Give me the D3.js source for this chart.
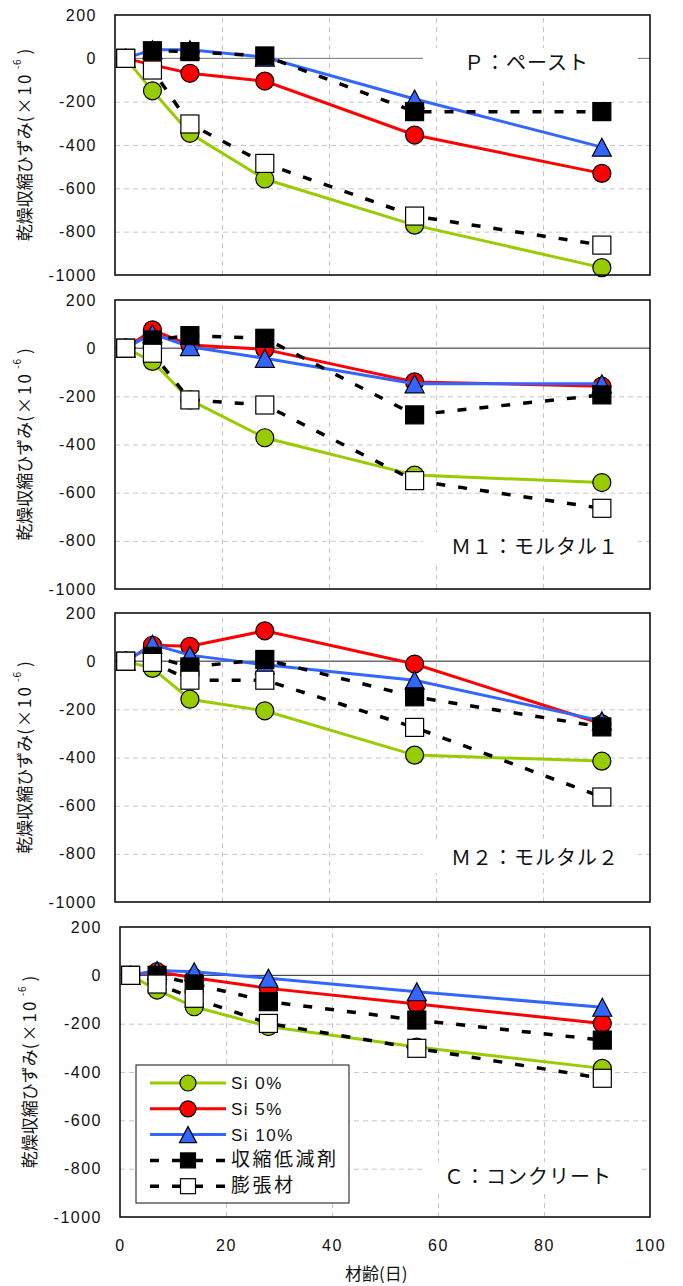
<!DOCTYPE html>
<html>
<head>
<meta charset="utf-8">
<script src="https://cdn.jsdelivr.net/npm/d3@7"></script>
<style>
    body { margin: 0; background: #fff; }
    svg { display: block; }
</style>
</head>
<body>
<svg id="chart" width="683" height="1286"></svg>
<script>
'use strict';

var days = [2, 7, 14, 28, 56, 91];
var seriesNames = ['Si 0%', 'Si 5%', 'Si 10%', '収縮低減剤', '膨張材'];
var panelNames = ['Ｐ：ペースト', 'Ｍ１：モルタル１', 'Ｍ２：モルタル２', 'Ｃ：コンクリート'];

// one row per series, same order as seriesNames (x10^-6)
var pasteData = [
    [0, -150, -346, -557, -770, -966],
    [0, -30, -69, -105, -354, -531],
    [0, 40, 40, 5, -188, -410],
    [0, 35, 31, 11, -246, -246],
    [0, -54, -303, -485, -728, -862]
];
var mortar1Data = [
    [0, -55, -215, -372, -527, -558],
    [0, 76, 13, -5, -140, -158],
    [0, 60, 6, -42, -148, -148],
    [0, 34, 52, 41, -277, -194],
    [0, -21, -215, -236, -550, -665]
];
var mortar2Data = [
    [0, -30, -158, -206, -390, -415],
    [0, 66, 62, 126, -12, -260],
    [0, 70, 25, -15, -79, -248],
    [0, 20, -24, 7, -148, -273],
    [0, -5, -79, -79, -275, -564]
];
var concreteData = [
    [0, -61, -130, -212, -297, -385],
    [0, 15, -10, -54, -119, -199],
    [0, 20, 15, -12, -68, -132],
    [0, 0, -36, -109, -185, -268],
    [0, -36, -95, -199, -302, -426]
];

var yTicks = [200, 0, -200, -400, -600, -800, -1000];
var yGrid = [-200, -400, -600, -800];
var xTicks = [0, 20, 40, 60, 80, 100];
var xGrid = [20, 40, 60, 80];

var latin = '"Liberation Sans", Arial, sans-serif';
var cjk = '"Noto Sans CJK JP", "Noto Sans", sans-serif';

var lineColors = ['#99cc00', '#ff0000', '#3366ff', '#000', '#000'];
var fillColors = ['#99cc00', '#ff0000', '#3366ff', '#000', '#fff'];
var shapes = ['circle', 'circle', 'triangle', 'square', 'square'];

var panels = [
    {data: pasteData, top: 15, bottom: 275, left: 115, right: 650, labelX: 464, labelY: 63},
    {data: mortar1Data, top: 300, bottom: 589, left: 115, right: 650, labelX: 451, labelY: 547},
    {data: mortar2Data, top: 613, bottom: 902, left: 115, right: 650, labelX: 451, labelY: 858},
    {data: concreteData, top: 927, bottom: 1217, left: 120, right: 650, labelX: 444, labelY: 1177}
];

var svg = d3.select('#chart');

//plain hyphen minus, no thousands comma
function plainNum(d) {
    return String(d);
}

function drawMarker(g, shape, s, fill) {
    var m;
    if (shape === 'circle') {
        m = g.append('circle').attr('r', s);
    } else if (shape === 'square') {
        m = g.append('rect').attr('x', -s).attr('y', -s).attr('width', 2 * s).attr('height', 2 * s);
    } else {
        m = g.append('path').attr('d', 'M0,' + (-s) + 'L' + (s + 0.5) + ',' + s + 'L' + (-s - 0.5) + ',' + s + 'Z');
    }
    m.attr('fill', fill).attr('stroke', '#000').attr('stroke-width', 1.2);
    return m;
}

function drawPanel(p, i) {
    var x = d3.scaleLinear().domain([0, 100]).range([p.left, p.right]);
    var y = d3.scaleLinear().domain([-1000, 200]).range([p.bottom, p.top]);
    var w = p.right - p.left;
    var h = p.bottom - p.top;
    var g = svg.append('g');

    //dashed grid
    var gy = g.append('g').attr('transform', 'translate(' + p.left + ',0)')
        .call(d3.axisLeft(y).tickValues(yGrid).tickSize(-w).tickFormat(''));
    var gx = g.append('g').attr('transform', 'translate(0,' + p.bottom + ')')
        .call(d3.axisBottom(x).tickValues(xGrid).tickSize(-h).tickFormat(''));
    [gy, gx].forEach(function (a) {
        a.select('.domain').remove();
        a.selectAll('line').attr('stroke', '#c6c6c6').attr('stroke-dasharray', '5,4');
    });

    //zero line
    g.append('line')
        .attr('x1', p.left).attr('x2', p.right)
        .attr('y1', y(0)).attr('y2', y(0))
        .attr('stroke', i === 0 ? '#707070' : '#222').attr('stroke-width', 1);

    //panel label with white box
    g.append('rect')
        .attr('x', 423).attr('y', p.labelY - 15)
        .attr('width', 215).attr('height', 30)
        .attr('fill', '#fff');
    g.append('text')
        .attr('x', p.labelX).attr('y', p.labelY + 7)
        .style('font-family', cjk).style('font-size', '20px')
        .style('letter-spacing', '1px').attr('fill', '#111')
        .text(panelNames[i]);

    //series
    var line = d3.line()
        .x(function (d, k) { return x(days[k]); })
        .y(function (d) { return y(d); });

    p.data.forEach(function (vals, s) {
        var path = g.append('path')
            .attr('d', line(vals))
            .attr('fill', 'none')
            .attr('stroke', lineColors[s])
            .attr('stroke-width', s < 3 ? 3 : 3.5);
        if (s >= 3) {
            path.attr('stroke-dasharray', '9,13');
        }
        vals.forEach(function (v, k) {
            var mg = g.append('g').attr('transform', 'translate(' + x(days[k]) + ',' + y(v) + ')');
            drawMarker(mg, shapes[s], 9, fillColors[s]);
        });
    });

    //y tick labels
    var ay = g.append('g').attr('transform', 'translate(' + p.left + ',0)')
        .call(d3.axisLeft(y).tickValues(yTicks).tickSize(0).tickPadding(18).tickFormat(plainNum));
    ay.select('.domain').remove();
    ay.selectAll('text')
        .style('font-family', latin).style('font-size', '16px')
        .style('letter-spacing', '1.5px').attr('fill', '#111');

    //y title
    var t = g.append('text')
        .attr('transform', 'translate(' + (p.left - 84) + ',' + ((p.top + p.bottom) / 2) + ') rotate(-90)')
        .attr('text-anchor', 'middle')
        .style('font-family', cjk).style('font-size', '17px').attr('fill', '#111');
    t.append('tspan').text('乾燥収縮ひずみ');
    t.append('tspan').style('letter-spacing', '2px').text('(×10');
    t.append('tspan').attr('dy', -10).style('font-size', '10px').style('letter-spacing', '1px').text(' -6');
    t.append('tspan').attr('dy', 10).text(' )');

    //frame
    g.append('rect')
        .attr('x', p.left).attr('y', p.top)
        .attr('width', w).attr('height', h)
        .attr('fill', 'none').attr('stroke', '#111').attr('stroke-width', 1.6);

    return {x: x, y: y, g: g};
}

var drawn = panels.map(drawPanel);

//x axis on the bottom panel
var last = panels[3];
var ax = svg.append('g').attr('transform', 'translate(0,' + last.bottom + ')')
    .call(d3.axisBottom(drawn[3].x).tickValues(xTicks).tickSize(0).tickPadding(23).tickFormat(plainNum));
ax.select('.domain').remove();
ax.selectAll('text')
    .style('font-family', latin).style('font-size', '16px')
    .style('letter-spacing', '1.5px').attr('fill', '#111');

svg.append('text')
    .attr('x', 345).attr('y', 1280)
    .style('font-family', cjk).style('font-size', '17px').attr('fill', '#111')
    .text('材齢(日)');

//legend inside the concrete panel
var lg = drawn[3].g.append('g');
lg.append('rect')
    .attr('x', 136).attr('y', 1065).attr('width', 213).attr('height', 138)
    .attr('fill', '#fff').attr('stroke', '#111').attr('stroke-width', 1);

seriesNames.forEach(function (name, s) {
    var ry = 1083 + s * 25.8;
    var l = lg.append('line')
        .attr('x1', 150).attr('x2', 226).attr('y1', ry).attr('y2', ry)
        .attr('stroke', lineColors[s]).attr('stroke-width', s < 3 ? 3 : 3.5);
    if (s >= 3) {
        l.attr('stroke-dasharray', '9,13');
    }
    var mg = lg.append('g').attr('transform', 'translate(188,' + ry + ')');
    drawMarker(mg, shapes[s], s < 3 ? 8 : 7.5, fillColors[s]);
    lg.append('text')
        .attr('x', 231).attr('y', ry + 6)
        .style('font-family', s < 3 ? latin : cjk)
        .style('font-size', s < 3 ? '17px' : '19px')
        .style('letter-spacing', s < 3 ? '1.5px' : '2.5px')
        .attr('fill', '#111')
        .text(name);
});
</script>
</body>
</html>
